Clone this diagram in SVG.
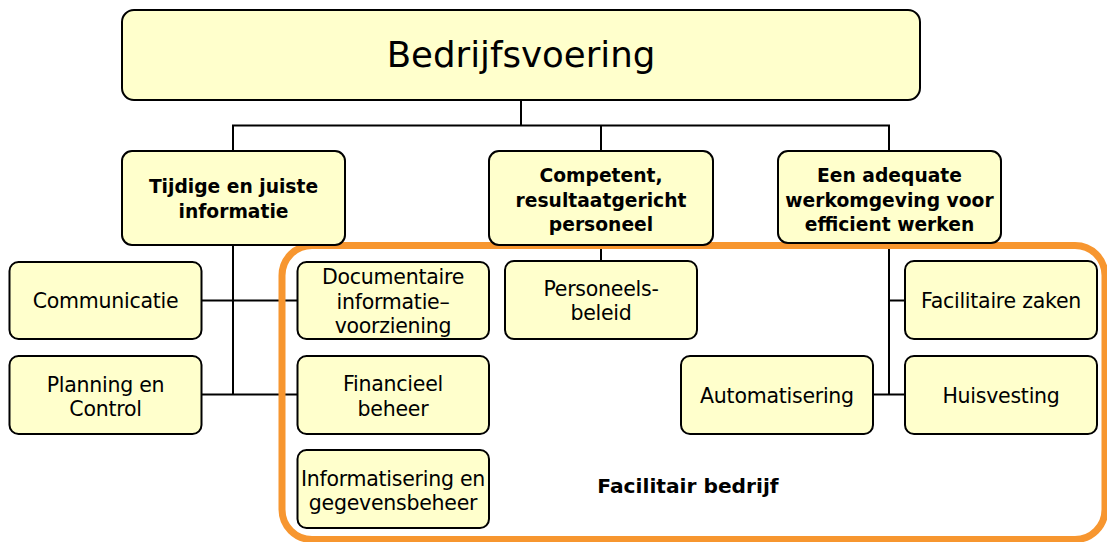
<svg xmlns="http://www.w3.org/2000/svg" width="1107" height="542" viewBox="0 0 1107 542">
<style>
.node rect{fill:#FFFFCC;stroke:#000;stroke-width:2}
.t{font-family:"DejaVu Sans","Liberation Sans",sans-serif;font-size:20.5px;letter-spacing:-0.25px;fill:#000;text-anchor:middle}
.b{font-family:"DejaVu Sans","Liberation Sans",sans-serif;font-size:18.7px;font-weight:bold;fill:#000;text-anchor:middle}
.conn path{fill:none;stroke:#000;stroke-width:2}
</style>
<rect x="0" y="0" width="1107" height="542" fill="#fff"/>
<g class="conn">
<path d="M521 100V125.5M233 151V125.5H889V151M601 125.5V151"/>
<path d="M233 245V394.5M201 300.5H297M201 394.5H297"/>
<path d="M601 245V261"/>
<path d="M889 243V394.5H873M889 300.5H905M889 394.5H905"/>
</g>
<rect x="282" y="245.5" width="823" height="294" rx="30" fill="none" stroke="#F7962F" stroke-width="7"/>
<g id="bedrijfsvoering" class="node"><rect x="122" y="10" width="798" height="90" rx="12"/><text class="t" x="521" y="67" style="font-size:35.6px;letter-spacing:0">Bedrijfsvoering</text></g>
<g id="tijdige" class="node"><rect x="122" y="151" width="223" height="94" rx="10"/><text class="b" x="233.5" y="193">Tijdige en juiste</text><text class="b" x="233.5" y="218">informatie</text></g>
<g id="competent" class="node"><rect x="489" y="151" width="224" height="94" rx="10"/><text class="b" x="601" y="182">Competent,</text><text class="b" x="601" y="206.5">resultaatgericht</text><text class="b" x="601" y="231">personeel</text></g>
<g id="werkomgeving" class="node"><rect x="778" y="151" width="223" height="92" rx="10"/><text class="b" x="889.5" y="182">Een adequate</text><text class="b" x="889.5" y="206.5">werkomgeving voor</text><text class="b" x="889.5" y="231">efficient werken</text></g>
<g id="communicatie" class="node"><rect x="9.5" y="262" width="192" height="77" rx="9"/><text class="t" x="105.5" y="307.5">Communicatie</text></g>
<g id="planning" class="node"><rect x="9.5" y="356" width="192" height="78" rx="9"/><text class="t" x="105.5" y="391.5">Planning en</text><text class="t" x="105.5" y="416">Control</text></g>
<g id="documentaire" class="node"><rect x="297.5" y="262" width="191.5" height="77" rx="9"/><text class="t" x="393" y="284">Documentaire</text><text class="t" x="393" y="308.5">informatie–</text><text class="t" x="393" y="333">voorziening</text></g>
<g id="financieel" class="node"><rect x="297.5" y="356" width="191.5" height="78" rx="9"/><text class="t" x="393" y="391">Financieel</text><text class="t" x="393" y="415.5">beheer</text></g>
<g id="informatisering" class="node"><rect x="297.5" y="450" width="191.5" height="78" rx="9"/><text class="t" x="393" y="485.5">Informatisering en</text><text class="t" x="393" y="509.5">gegevensbeheer</text></g>
<g id="personeelsbeleid" class="node"><rect x="505" y="261" width="192" height="78" rx="9"/><text class="t" x="601" y="295.5">Personeels-</text><text class="t" x="601" y="320">beleid</text></g>
<g id="facilitaire" class="node"><rect x="905" y="261" width="192" height="78" rx="9"/><text class="t" x="1001" y="307.5">Facilitaire zaken</text></g>
<g id="automatisering" class="node"><rect x="681" y="356" width="192" height="78" rx="9"/><text class="t" x="777" y="402.5">Automatisering</text></g>
<g id="huisvesting" class="node"><rect x="905" y="356" width="192" height="78" rx="9"/><text class="t" x="1001" y="402.5">Huisvesting</text></g>
<text class="b" x="688" y="493" style="font-size:20.2px">Facilitair bedrijf</text>
</svg>
